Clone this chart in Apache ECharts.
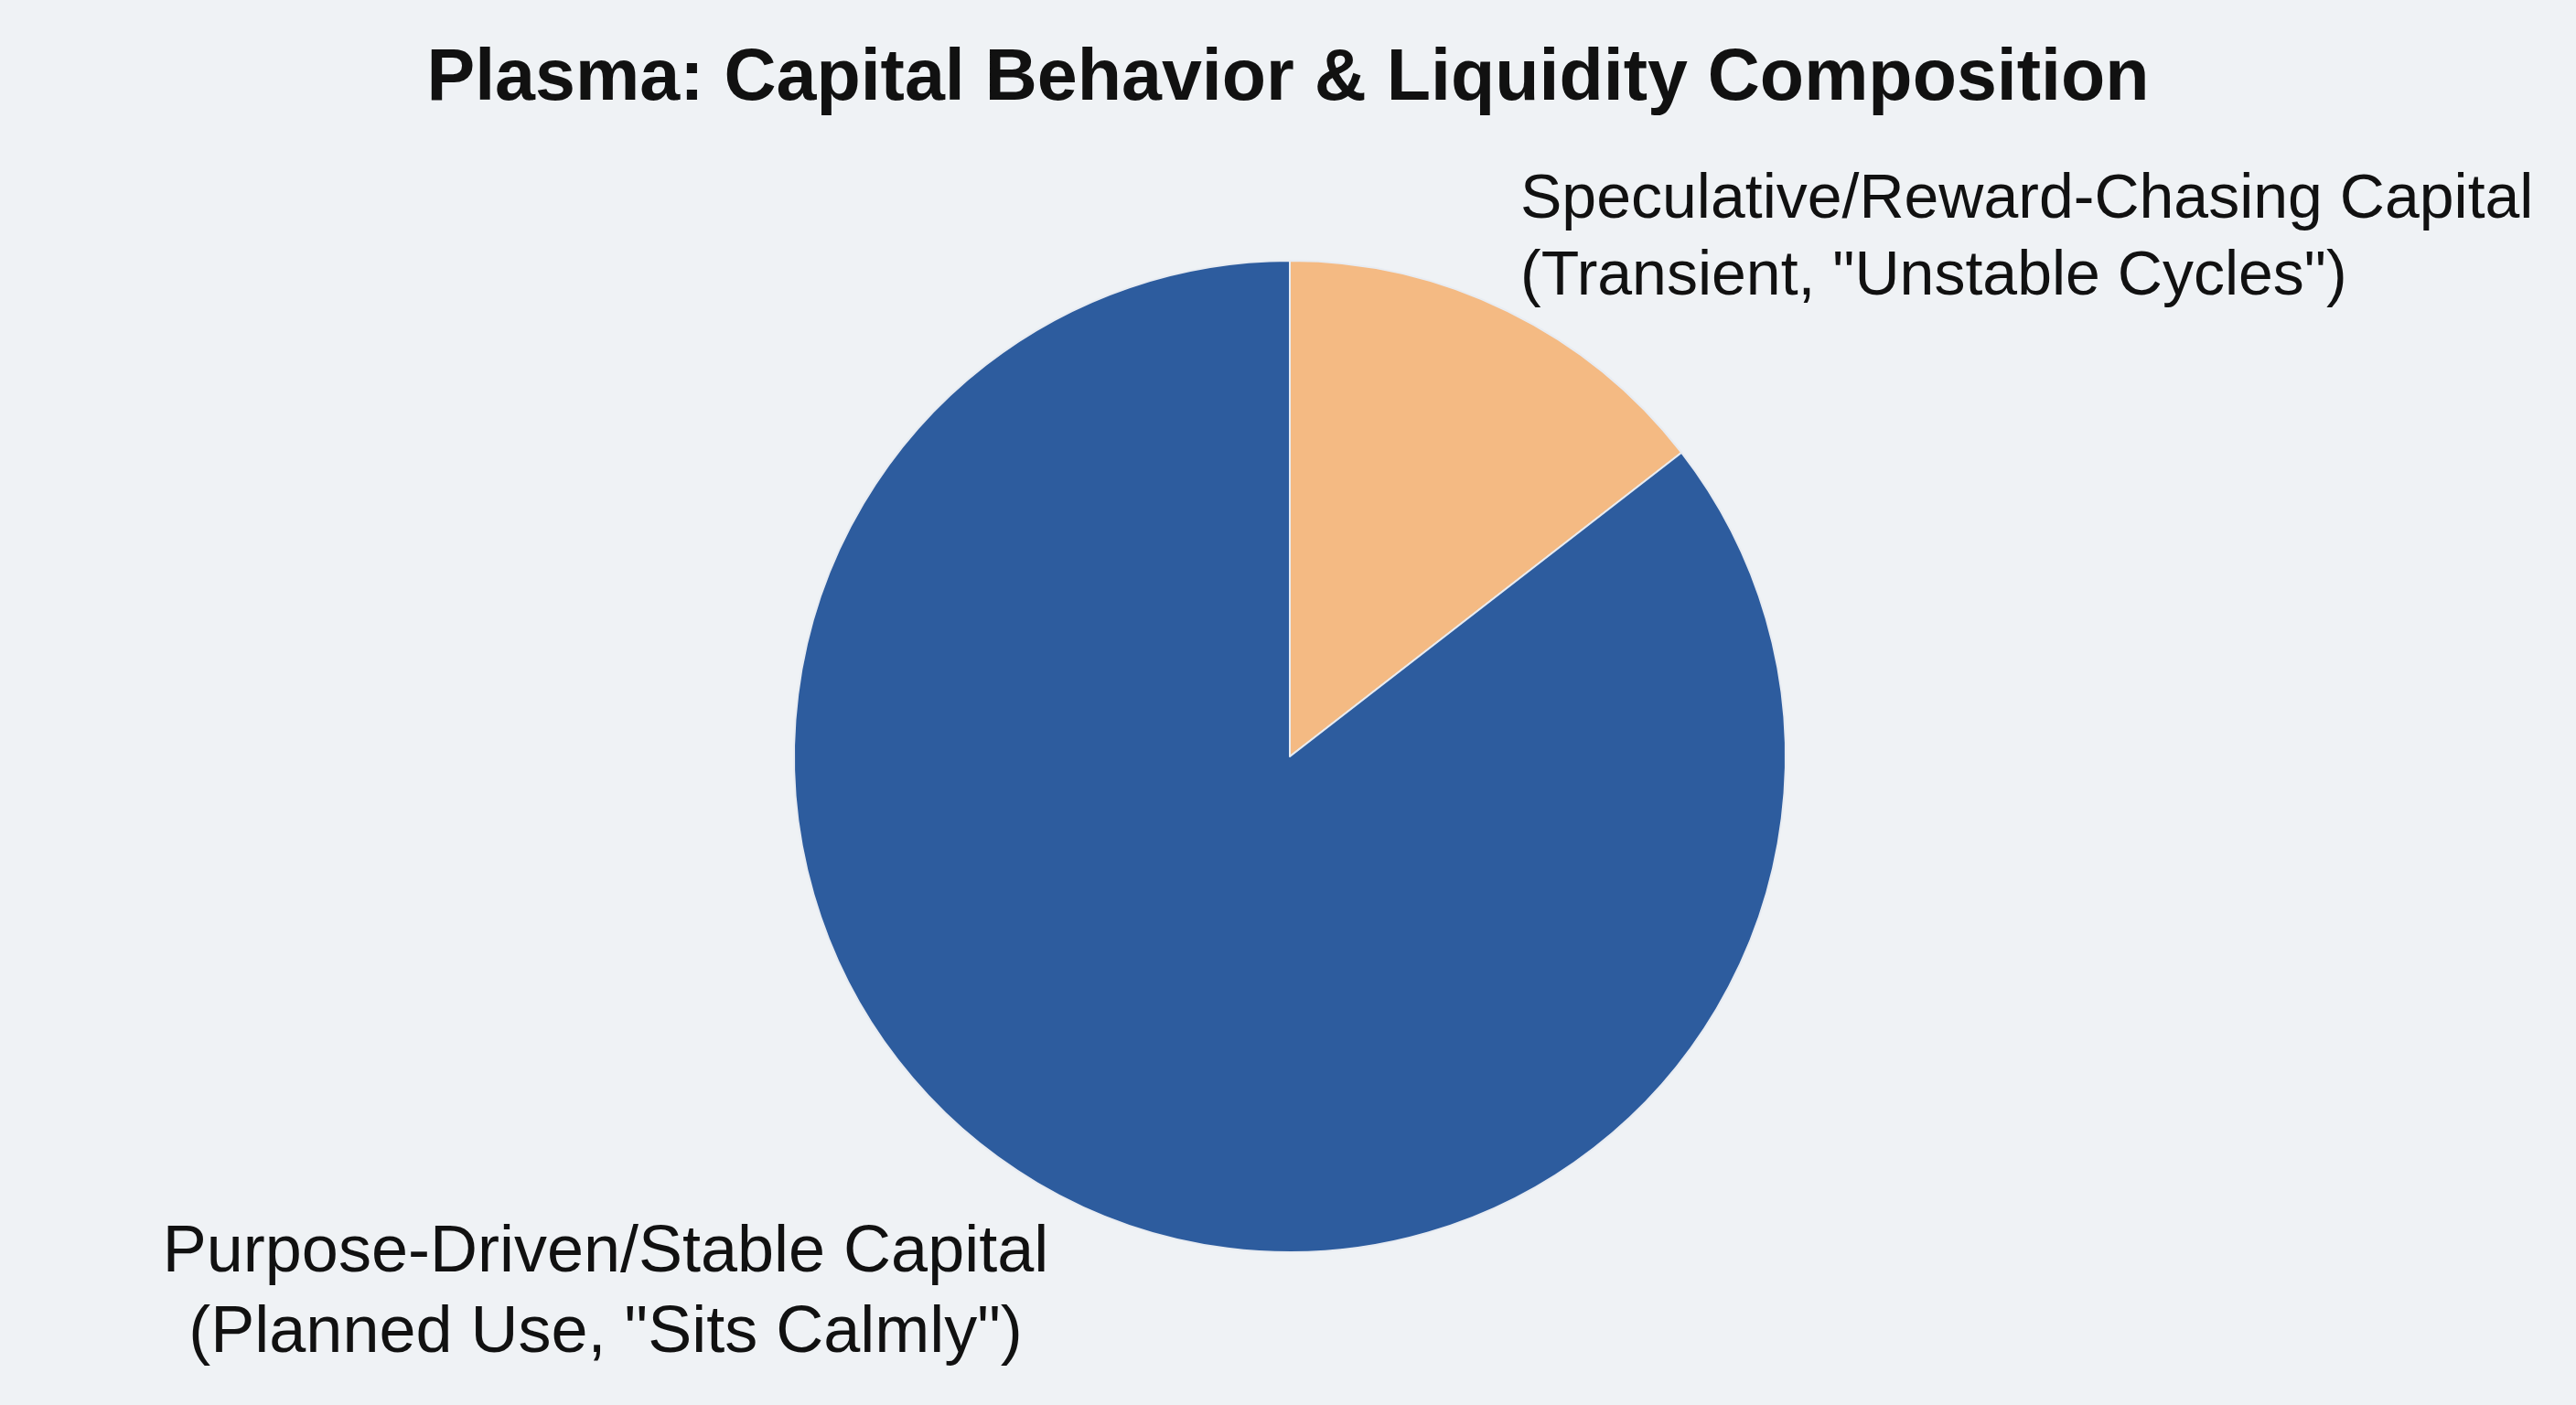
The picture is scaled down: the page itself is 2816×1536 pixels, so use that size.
<!DOCTYPE html>
<html>
<head>
<meta charset="utf-8">
<script src="https://cdn.jsdelivr.net/npm/echarts@6/dist/echarts.min.js"></script>
<style>
html,body{margin:0;padding:0;background:#eff2f5;}
#chart{width:2816px;height:1536px;}
</style>
</head>
<body>
<div id="chart"></div>
<script>
const titleText = 'Plasma: Capital Behavior & Liquidity Composition';
const categories = [
  'Speculative/Reward-Chasing Capital\n(Transient, "Unstable Cycles")',
  'Purpose-Driven/Stable Capital\n(Planned Use, "Sits Calmly")'
];
const shares = [14.5, 85.5];
const colors = ['#f4ba83', '#2d5c9e'];

const chart = echarts.init(document.getElementById('chart'));
chart.setOption({
  backgroundColor: '#eff2f5',
  animation: false,
  title: {
    text: titleText,
    left: 'center',
    top: 48,
    padding: 0,
    textStyle: {
      fontFamily: 'Liberation Sans, Arial, sans-serif',
      fontWeight: 'bold',
      fontSize: 79,
      lineHeight: 79,
      color: '#111111'
    }
  },
  series: [{
    type: 'pie',
    center: [1410, 827],
    radius: 542,
    startAngle: 90,
    clockwise: true,
    data: categories.map((c, i) => ({
      name: c,
      value: shares[i],
      itemStyle: { color: colors[i] },
      label: i === 1 ? { fontSize: 72, lineHeight: 88 } : {}
    })),
    itemStyle: { borderColor: '#e8ecf2', borderWidth: 2 },
    label: {
      show: true,
      position: 'outside',
      formatter: '{b}',
      fontFamily: 'Liberation Sans, Arial, sans-serif',
      fontSize: 68,
      lineHeight: 84,
      color: '#111111'
    },
    labelLine: { show: false },
    labelLayout: function (p) {
      if (p.dataIndex === 0) {
        return { x: 1662, y: 177, align: 'left', verticalAlign: 'top' };
      }
      return { x: 662, y: 1326, align: 'center', verticalAlign: 'top' };
    },
    emphasis: { disabled: true }
  }]
});
</script>
</body>
</html>
